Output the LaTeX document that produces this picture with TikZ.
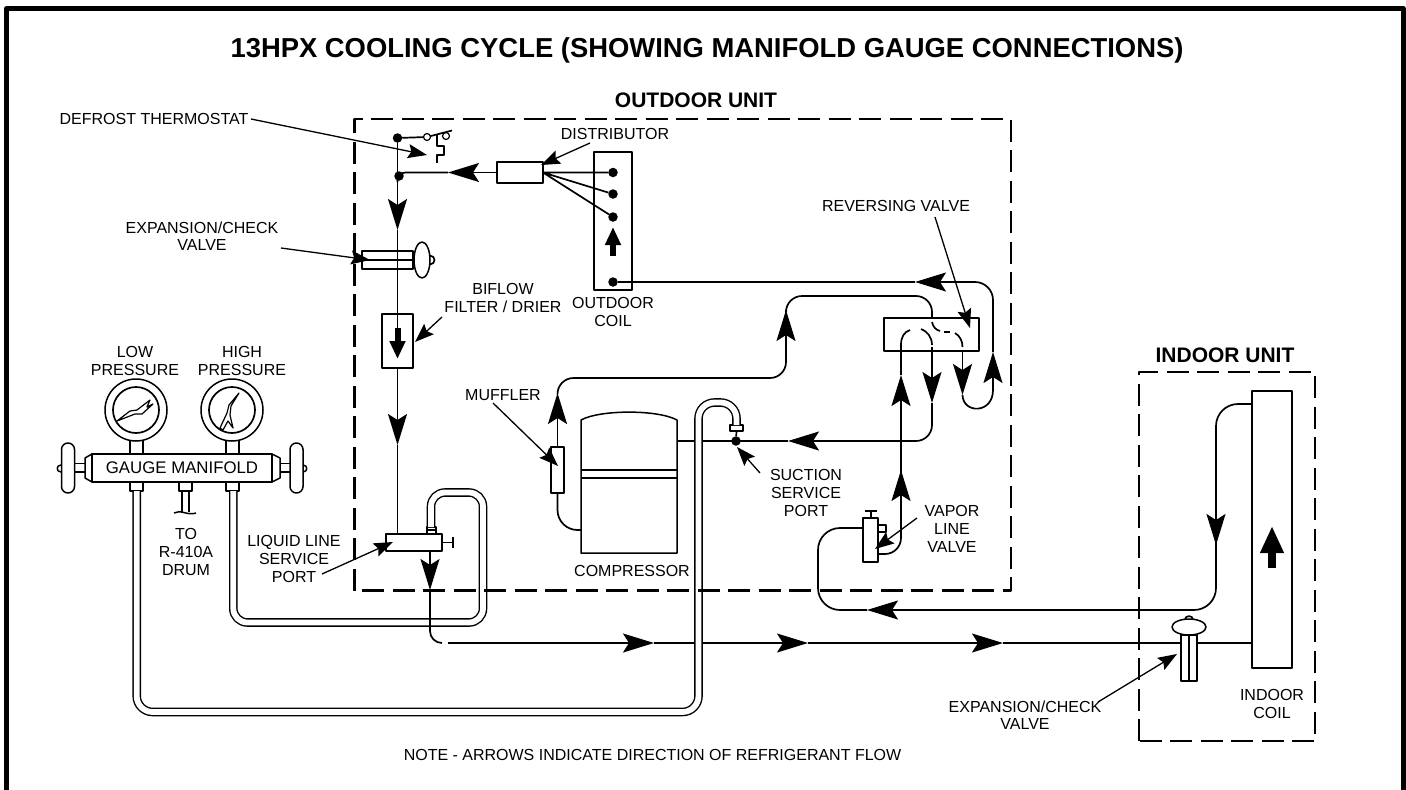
\documentclass[tikz,border=0pt]{standalone}
\usepackage{fontspec}
\setmainfont{Liberation Sans}
\usetikzlibrary{arrows.meta}
\newcommand{\labfont}{\fontsize{16}{17.6}\selectfont}
\begin{document}
\begin{tikzpicture}[x=1pt,y=-1pt,line join=round,
    pipe/.style = {line width=1.7pt},
    flow/.style = {line width=1.7pt,-{Stealth[length=31pt,width=19pt,inset=6pt]}},
    lead/.style = {line width=1.3pt,-{Stealth[length=19pt,width=14pt,inset=3pt]}},
    block/.style = {line width=6pt,-{Triangle[length=18pt,width=15pt]}},
    hose/.style = {line width=1.4pt,double=white,double distance=5.8pt},
    part/.style = {draw,line width=1.5pt,inner sep=0pt,outer sep=0pt},
    dot/.style = {circle,fill=black,inner sep=0pt,outer sep=0pt,minimum size=9.5pt},
    ring/.style = {circle,draw,line width=1.2pt,fill=white,inner sep=0pt,outer sep=0pt,minimum size=7pt},
    lab/.style = {align=center,inner sep=0pt,font=\labfont},
    head/.style = {inner sep=0pt,font=\bfseries\fontsize{21}{24}\selectfont},
    unit/.style = {dash pattern=on 22pt off 8.5pt,line width=2.4pt}]
    \useasboundingbox (0,0) rectangle (1406,790);

    % frame and texts
    \draw[line width=5pt] (6.5,795) -- (6.5,8.5) -- (1403,8.5) -- (1403,795);
    \node[inner sep=0pt,anchor=base,font=\bfseries\fontsize{27.4}{30}\selectfont] (title) at (707,57) {13HPX COOLING CYCLE (SHOWING MANIFOLD GAUGE CONNECTIONS)};
    \node[head,anchor=base] (outdoorlab) at (696,107) {OUTDOOR UNIT};
    \node[head,anchor=base] (indoorlab) at (1225,362) {INDOOR UNIT};
    \node[lab] (defrostlab) at (154,119) {DEFROST THERMOSTAT};
    \node[lab] (distriblab) at (615,134) {DISTRIBUTOR};
    \node[lab] (expanlab) at (202,236) {EXPANSION/CHECK\\VALVE};
    \node[lab] (biflowlab) at (503,298) {BIFLOW\\FILTER / DRIER};
    \node[lab] (ocoillab) at (613,312) {OUTDOOR\\COIL};
    \node[lab] (revlab) at (896,206) {REVERSING VALVE};
    \node[lab] (lowlab) at (135,361) {LOW\\PRESSURE};
    \node[lab] (highlab) at (242,361) {HIGH\\PRESSURE};
    \node[lab] (mufflab) at (503,395) {MUFFLER};
    \node[lab] (suctlab) at (806,493) {SUCTION\\SERVICE\\PORT};
    \node[lab] (vaporlab) at (952,529) {VAPOR\\LINE\\VALVE};
    \node[lab] (drumlab) at (186,552) {TO\\R-410A\\DRUM};
    \node[lab] (liqlab) at (294,559) {LIQUID LINE\\SERVICE\\PORT};
    \node[lab] (complab) at (632,571) {COMPRESSOR};
    \node[lab] (iexplab) at (1025,715) {EXPANSION/CHECK\\VALVE};
    \node[lab] (icoillab) at (1272,704) {INDOOR\\COIL};
    \node[lab] (notelab) at (652.5,755) {NOTE - ARROWS INDICATE DIRECTION OF REFRIGERANT FLOW};

    % outdoor parts
    \node[part,minimum width=46pt,minimum height=21pt] (distrib) at (520,172.5) {};
    \node[part,minimum width=38pt,minimum height=138pt] (ocoil) at (613,221) {};
    \node[part,minimum width=51pt,minimum height=18pt] (expan) at (387.5,260) {};
    \node[part,minimum width=31pt,minimum height=54pt] (drier) at (397.5,341) {};
    \node[part,minimum width=56pt,minimum height=17pt] (liqvalve) at (414,542.5) {};
    \node[part,minimum width=13pt,minimum height=46pt] (muffler) at (557.5,470) {};
    \node[part,minimum width=95pt,minimum height=33pt] (revvalve) at (931.5,334.5) {};
    \node[part,minimum width=15pt,minimum height=44pt] (vapvalve) at (870.5,540) {};
    \node[dot] (thermdot) at (397.5,138) {};
    \node[dot] (liqdot) at (399,176) {};
    \node[dot] (cdotA) at (613,172.5) {};
    \node[dot] (cdotB) at (613,194) {};
    \node[dot] (cdotC) at (613,217) {};
    \node[dot] (cdotD) at (613,282) {};
    \node[dot] (suctdot) at (736,441) {};
    \draw[part] (422,260) ellipse [x radius=8pt,y radius=18pt];
    \draw[pipe] (430,255.5) .. controls (436,256) and (436,264) .. (430,264.5);
    \draw[pipe] (362,260) -- (413,260);
    \draw[part] (581,553) -- (581,420) .. controls (600,409.5) and (658,409.5) .. (677,420) -- (677,553) -- cycle;
    \draw[part] (581,470) -- (677,470) (581,478) -- (677,478);
    \draw[part] (427,527) rectangle (436,534) (427,530) -- (436,530);
    \draw[part] (730,425) rectangle (743,431);
    \draw[part] (442,542.5) -- (453,542.5) (453,537) -- (453,548);
    \draw[part] (878,525) rectangle (886,532);
    \draw[part] (871,518) -- (871,511) (865,511) -- (877,511);
    \draw[block] (613,256) -- (613,227);
    \draw[block] (397.5,328) -- (397.5,359);

    % thermostat
    \node[ring] (contA) at (427,137) {};
    \node[ring] (contB) at (446,136) {};
    \draw[pipe] (thermdot) -- (contA);
    \draw[pipe] (contA) -- (452,130.5);
    \draw[pipe] (437,134) -- (437,146) -- (444,146) -- (444,155) -- (437,155) -- (437,163);

    % indoor parts
    \node[part,minimum width=40pt,minimum height=277pt] (icoil) at (1272,529.5) {};
    \node[part,minimum width=16pt,minimum height=46pt] (iexpan) at (1189,658) {};
    \draw[part,fill=white] (1189,627) ellipse [x radius=17pt,y radius=8pt];
    \draw[pipe] (1185,619.5) .. controls (1185,615) and (1193,615) .. (1193,619.5);
    \draw[pipe] (1189,635) -- (1189,681);
    \draw[line width=8pt,-{Triangle[length=27pt,width=22pt]}] (1272,568) -- (1272,526);

    % flow lines
    \coordinate (tipA) at (448,172.5);
    \coordinate (tipB) at (397.5,230);
    \coordinate (tipC) at (397.5,445);
    \draw[pipe] (cdotA) -- (distrib.east) (cdotB) -- (543,172.5) (cdotC) -- (543,172.5);
    \draw[flow] (distrib.west) -- (tipA);
    \draw[pipe,rounded corners=8pt] (tipA) -- (397.5,172.5) -- (397.5,182);
    \draw[pipe] (thermdot) -- (397.5,182);
    \draw[flow] (397.5,182) -- (tipB);
    \draw[pipe] (tipB) -- (drier.north) (drier.south) -- (397.5,400);
    \draw[pipe] (drier.north) -- (397.5,328);
    \draw[flow] (397.5,400) -- (tipC);
    \draw[pipe] (tipC) -- (397.5,534);

    \coordinate (tipD) at (557.5,393);
    \coordinate (tipE) at (703,378);
    \coordinate (tipF) at (786,310);
    \coordinate (tipG) at (888,296);
    \draw[pipe,rounded corners=20pt] (581,530) -- (557.5,530) -- (muffler.south);
    \draw[flow] (muffler.north) -- (tipD);
    \draw[pipe,rounded corners=16pt] (tipD) -- (557.5,378) -- (tipE);
    \draw[pipe,rounded corners=16pt] (tipE) -- (786,378) -- (786,340);
    \draw[flow] (786,345) -- (tipF);
    \draw[pipe,rounded corners=16pt] (tipF) -- (786,296) -- (tipG);
    \draw[pipe,rounded corners=16pt] (tipG) -- (932,296) -- (932,318);

    \coordinate (tipH) at (915,282);
    \coordinate (tipI) at (962.5,395);
    \coordinate (tipJ) at (993,352);
    \draw[flow] (962.5,351) -- (tipI);
    \draw[pipe] (tipI) .. controls (963,414) and (993,414) .. (993,390);
    \draw[flow] (993,390) -- (tipJ);
    \draw[pipe,rounded corners=18pt] (tipJ) -- (993,282) -- (950,282);
    \draw[flow] (950,282) -- (tipH);
    \draw[pipe] (tipH) -- (cdotD);

    \coordinate (tipK) at (932,403);
    \coordinate (tipL) at (788,441);
    \draw[flow] (932,351) -- (tipK);
    \draw[pipe,rounded corners=16pt] (tipK) -- (932,441) -- (880,441);
    \draw[flow] (880,441) -- (tipL);
    \draw[pipe] (tipL) -- (677,441);

    \coordinate (tipM) at (901,470);
    \coordinate (tipN) at (901,375);
    \draw[pipe,rounded corners=16pt] (878,554) -- (901,554) -- (tipM);
    \draw[flow] (901,510) -- (tipM);
    \draw[flow] (tipM) -- (tipN);
    \draw[pipe] (tipN) -- (901,345);

    \coordinate (tipO) at (867,610);
    \coordinate (tipP) at (1216,545);
    \draw[pipe,rounded corners=22pt] (icoil.north west |- 0,404) -- (1216,404) -- (tipP);
    \draw[flow] (1216,500) -- (tipP);
    \draw[pipe,rounded corners=22pt] (tipP) -- (1216,610) -- (950,610);
    \draw[flow] (950,610) -- (tipO);
    \draw[pipe,rounded corners=22pt] (tipO) -- (818,610) -- (818,528) -- (863,528);

    \coordinate (tipQ) at (654,643);
    \coordinate (tipR) at (808,643);
    \coordinate (tipS) at (1003,643);
    \draw[flow] (448,643) -- (tipQ);
    \draw[flow] (tipQ) -- (tipR);
    \draw[flow] (tipR) -- (tipS);
    \draw[pipe] (tipS) -- (iexpan.west |- tipS);
    \draw[pipe] (iexpan.east |- tipS) -- (icoil.west |- tipS);

    % reversing valve inside
    \draw[pipe] (901,345) .. controls (901,337) and (904,332) .. (910,330);
    \draw[pipe] (921,329) .. controls (927,331) and (932,337) .. (932,345);
    \draw[pipe] (932,347) -- (932,351);
    \draw[pipe] (932,322) .. controls (933,327) and (936,330) .. (940,331);
    \draw[pipe] (944,332) -- (950,332);
    \draw[pipe] (955,333) .. controls (960,336) and (962.5,341) .. (962.5,347);

    % gauges
    \node[circle,draw,line width=1.5pt,inner sep=0pt,outer sep=0pt,minimum size=62pt] (lowgauge) at (136,410) {};
    \node[circle,draw,line width=1.5pt,inner sep=0pt,outer sep=0pt,minimum size=62pt] (highgauge) at (232,410) {};
    \draw[pipe] (lowgauge.center) circle (23pt) (highgauge.center) circle (23pt);
    \draw[line width=1.2pt] (117,421) -- (130,411) -- (137,410) -- (150,400) -- (147,407) -- (153,404) -- (142,414) -- (135,414) -- cycle;
    \draw[line width=1.2pt] (239,393) -- (231,406) -- (230,415) -- (233,428) -- (228,421) -- (223,430) -- (220,428) -- (227,413) -- (229,405) -- cycle;
    \node[part,minimum width=180pt,minimum height=28pt,font=\fontsize{16.8}{18}\selectfont] (manifold) at (182,468) {GAUGE MANIFOLD};
    \draw[part] (130,440) -- (130,454) (143,440) -- (143,454);
    \draw[part] (226,440) -- (226,454) (239,440) -- (239,454);
    \draw[part] (92,454) -- (85,458) -- (85,478) -- (92,482);
    \draw[part] (272,454) -- (280,458) -- (280,478) -- (272,482);
    \draw[part] (85,463.5) -- (75,463.5) (85,472) -- (75,472);
    \draw[part] (280,463.5) -- (290,463.5) (280,472) -- (290,472);
    \draw[part,rounded corners=6.5pt] (61.5,443) rectangle (74.5,493);
    \draw[part,rounded corners=6.5pt] (290,443) rectangle (303,493);
    \draw[part] (61,465) .. controls (56,465) and (56,472) .. (61,472);
    \draw[part] (303,465) .. controls (308,465) and (308,472) .. (303,472);
    \node[part,minimum width=13pt,minimum height=9pt] (lowfit) at (136.5,486.5) {};
    \node[part,minimum width=13pt,minimum height=9pt] (drumfit) at (185.5,486.5) {};
    \node[part,minimum width=13pt,minimum height=9pt] (highfit) at (232.5,486.5) {};
    \draw[part] (182,491) -- (182,512) (189,491) -- (189,512);
    \draw[part] (174,513) .. controls (180,509) and (188,516) .. (196,513);

    % hoses
    \coordinate (lowA) at (136.7,712);
    \coordinate (lowB) at (698.5,712);
    \coordinate (lowC) at (698.5,402.5);
    \coordinate (lowD) at (736.5,402.5);
    \coordinate (highA) at (233.3,622.5);
    \coordinate (highB) at (483,622.5);
    \coordinate (highC) at (483,492.5);
    \coordinate (highD) at (431,492.5);
    \draw[hose,rounded corners=16pt] (136.7,491) -- (lowA) -- (lowB) -- (lowC) -- (lowD) -- (736.5,425);
    \draw[hose,rounded corners=14pt] (233.3,491) -- (highA) -- (highB) -- (highC) -- (highD) -- (431,527);
    \draw[pipe] (suctdot) -- (736.5,431);

    \coordinate (tipT) at (430,590);
    \draw[flow] (liqvalve.south -| tipT) -- (tipT);
    \draw[pipe,rounded corners=12pt] (tipT) -- (430,643) -- (442,643);

    % pointers
    \coordinate (defrosttip) at (427,155);
    \coordinate (distribtip) at (541,165);
    \coordinate (expantip) at (370,260);
    \coordinate (drieriptip) at (415,342);
    \coordinate (revtip) at (970,328);
    \coordinate (mufftip) at (558,466);
    \coordinate (suctip) at (737,447);
    \coordinate (vaptip) at (875,549);
    \coordinate (liqtip) at (393,542);
    \coordinate (iexptip) at (1177,654);
    \draw[lead] (251,119) -- (defrosttip);
    \draw[lead] (590,143) -- (distribtip);
    \draw[lead] (281,248) -- (expantip);
    \draw[lead] (442,317) -- (drieriptip);
    \draw[lead] (935,217) -- (revtip);
    \draw[lead] (493,403) -- (mufftip);
    \draw[lead] (760,473) -- (suctip);
    \draw[lead] (917,518) -- (vaptip);
    \draw[lead] (322,574) -- (liqtip);
    \draw[lead] (1098,702) -- (iexptip);

    % unit boxes
    \draw[unit] (354.5,590.5) -- (354.5,119) -- (1011,119) -- (1011,590.5) -- cycle;
    \draw[unit] (1139,741) -- (1139,372) -- (1315,372) -- (1315,741) -- cycle;
\end{tikzpicture}
\end{document}
